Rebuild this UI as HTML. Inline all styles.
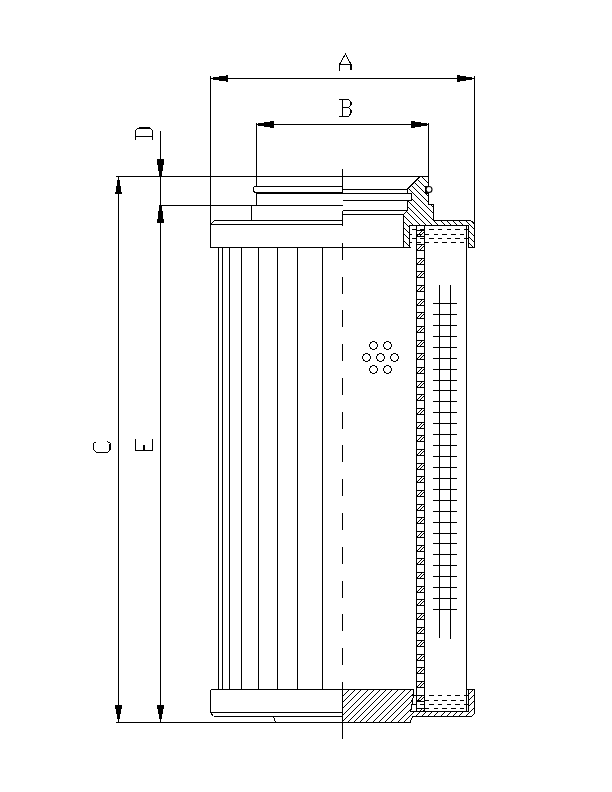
<!DOCTYPE html>
<html><head><meta charset="utf-8"><style>
html,body{margin:0;padding:0;background:#fff;}
body{width:612px;height:792px;overflow:hidden;font-family:"Liberation Sans",sans-serif;}
svg{display:block;}
</style></head><body>
<svg width="612" height="792" viewBox="0 0 612 792" stroke="#000" stroke-width="1" fill="none" shape-rendering="crispEdges">
<line x1="210.5" y1="76" x2="210.5" y2="248"/>
<line x1="474.5" y1="76" x2="474.5" y2="224"/>
<line x1="210.5" y1="78.5" x2="474.5" y2="78.5"/>
<polygon points="213.0,79.8 219.0,79.8 219.0,80.9 225.5,80.9 225.5,81.9 228.0,81.9 228.0,75.1 225.5,75.1 225.5,76.1 219.0,76.1 219.0,77.2 213.0,77.2" fill="#000" stroke="none"/>
<polygon points="472.0,77.2 466.0,77.2 466.0,76.1 459.5,76.1 459.5,75.1 457.0,75.1 457.0,81.9 459.5,81.9 459.5,80.9 466.0,80.9 466.0,79.8 472.0,79.8" fill="#000" stroke="none"/>
<path d="M339.5,70.5 V64.5 L345.5,54 L351,64.5 M339.5,64.5 H351.5" />
<line x1="351" y1="64" x2="351" y2="69.5" stroke-width="2"/>
<line x1="256.5" y1="123" x2="256.5" y2="187"/>
<line x1="428.5" y1="123" x2="428.5" y2="186.5"/>
<line x1="256.5" y1="124.5" x2="428.5" y2="124.5"/>
<polygon points="257.8,125.8 264.2,125.8 264.2,126.9 270.0,126.9 270.0,127.9 274.0,127.9 274.0,121.1 270.0,121.1 270.0,122.1 264.2,122.1 264.2,123.2 257.8,123.2" fill="#000" stroke="none"/>
<polygon points="427.0,123.2 420.6,123.2 420.6,122.1 414.8,122.1 414.8,121.1 411.1,121.1 411.1,127.9 414.8,127.9 414.8,126.9 420.6,126.9 420.6,125.8 427.0,125.8" fill="#000" stroke="none"/>
<path d="M339,99.5 H348.5 L351.5,102.5 V104.5 L348.5,107.5 H342.5 M348.5,107.5 L351.5,110.5 V112.5 L348.5,116.5 H339 M342.5,99.5 V116.5" />
<line x1="351" y1="102" x2="351" y2="105" stroke-width="2"/>
<line x1="351" y1="110" x2="351" y2="113" stroke-width="2"/>
<line x1="160.5" y1="131" x2="160.5" y2="722.5"/>
<polygon points="161.8,176.0 161.8,171.0 162.9,171.0 162.9,165.0 163.9,165.0 163.9,159.0 157.1,159.0 157.1,165.0 158.1,165.0 158.1,171.0 159.2,171.0 159.2,176.0" fill="#000" stroke="none"/>
<polygon points="159.2,206.0 159.2,211.0 158.1,211.0 158.1,218.7 157.1,218.7 157.1,222.5 163.9,222.5 163.9,218.7 162.9,218.7 162.9,211.0 161.8,211.0 161.8,206.0" fill="#000" stroke="none"/>
<polygon points="161.8,719.2 161.8,714.0 162.9,714.0 162.9,709.0 163.9,709.0 163.9,705.0 157.1,705.0 157.1,709.0 158.1,709.0 158.1,714.0 159.2,714.0 159.2,719.2" fill="#000" stroke="none"/>
<path d="M135.5,139.5 V130.5 L138.5,128 H149.5 L152.5,130.5 V139.5 M135.5,136.5 H152.5" />
<path d="M138.5,128 H149.5" stroke-width="2"/>
<path d="M135.5,439 V450.5 H152.5 V439" />
<path d="M144,445 V450.5" stroke-width="2"/>
<line x1="118.5" y1="176.5" x2="118.5" y2="722.5"/>
<polygon points="117.2,179.8 117.2,185.5 116.1,185.5 116.1,192.0 115.1,192.0 115.1,194.0 121.9,194.0 121.9,192.0 120.9,192.0 120.9,185.5 119.8,185.5 119.8,179.8" fill="#000" stroke="none"/>
<polygon points="119.8,719.2 119.8,714.0 120.9,714.0 120.9,709.0 121.9,709.0 121.9,705.0 115.1,705.0 115.1,709.0 116.1,709.0 116.1,714.0 117.2,714.0 117.2,719.2" fill="#000" stroke="none"/>
<path d="M96.5,441.5 L93.5,443.5 V449.5 L96.5,452.5 H107.5 L110.5,449.5 V443.5 L107.5,441.5" />
<line x1="110" y1="443.5" x2="110" y2="449.5" stroke-width="2"/>
<line x1="116" y1="176.5" x2="428.5" y2="176.5"/>
<line x1="159" y1="205.5" x2="342.5" y2="205.5"/>
<line x1="116" y1="722.5" x2="410" y2="722.5"/>
<line x1="210.5" y1="247.5" x2="411" y2="247.5"/>
<line x1="210.5" y1="224.5" x2="342.5" y2="224.5"/>
<line x1="214.5" y1="220.5" x2="342.5" y2="220.5"/>
<line x1="210.5" y1="224.5" x2="214.5" y2="220.5"/>
<line x1="251.5" y1="205.5" x2="251.5" y2="220.5"/>
<line x1="256.5" y1="193" x2="256.5" y2="205.5"/>
<path d="M256.5,186.5 H342.5" />
<path d="M256.5,186.5 Q252.5,186.5 253.5,189.5 Q253.5,192.5 256.5,192.5" />
<line x1="256.5" y1="193" x2="342.5" y2="193" stroke-width="2"/>
<line x1="342.5" y1="169" x2="342.5" y2="193.5"/>
<line x1="342.5" y1="210.5" x2="342.5" y2="226"/>
<line x1="342.5" y1="242.8" x2="342.5" y2="259.8"/>
<line x1="342.5" y1="276.58" x2="342.5" y2="293.58"/>
<line x1="342.5" y1="310.36" x2="342.5" y2="327.36"/>
<line x1="342.5" y1="344.14" x2="342.5" y2="361.14"/>
<line x1="342.5" y1="377.92" x2="342.5" y2="394.92"/>
<line x1="342.5" y1="411.7" x2="342.5" y2="428.7"/>
<line x1="342.5" y1="445.48" x2="342.5" y2="462.48"/>
<line x1="342.5" y1="479.26" x2="342.5" y2="496.26"/>
<line x1="342.5" y1="513.04" x2="342.5" y2="530.04"/>
<line x1="342.5" y1="546.82" x2="342.5" y2="563.82"/>
<line x1="342.5" y1="580.6" x2="342.5" y2="597.6"/>
<line x1="342.5" y1="614.38" x2="342.5" y2="631.38"/>
<line x1="342.5" y1="648.16" x2="342.5" y2="665.16"/>
<line x1="342.5" y1="681.94" x2="342.5" y2="698.5"/>
<line x1="342.5" y1="715.5" x2="342.5" y2="738.7"/>
<line x1="342.5" y1="189.5" x2="408" y2="189.5"/>
<line x1="342.5" y1="193.5" x2="411.5" y2="193.5"/>
<line x1="342.5" y1="200.5" x2="411.5" y2="200.5"/>
<line x1="342.5" y1="210.5" x2="408" y2="210.5"/>
<line x1="342.5" y1="214.5" x2="403.5" y2="214.5"/>
<clipPath id="ctop"><polygon points="420.2,176.5 428.5,176.5 428.5,204.5 433.5,204.5 433.5,220.5 470.7,220.5 474.5,224 474.5,247.5 468.5,247.5 468.5,225.5 409.8,225.5 409.8,247.5 403.5,247.5 403.5,214.5 407.8,210.5 407.8,200.5 411.5,200.5 411.5,193.5 407.8,193.5 407.8,188.8"/></clipPath>
<g clip-path="url(#ctop)"><line x1="602" y1="170" x2="687" y2="255"/><line x1="596" y1="170" x2="681" y2="255"/><line x1="590" y1="170" x2="675" y2="255"/><line x1="583" y1="170" x2="668" y2="255"/><line x1="577" y1="170" x2="662" y2="255"/><line x1="571" y1="170" x2="656" y2="255"/><line x1="565" y1="170" x2="650" y2="255"/><line x1="558" y1="170" x2="643" y2="255"/><line x1="552" y1="170" x2="637" y2="255"/><line x1="546" y1="170" x2="631" y2="255"/><line x1="540" y1="170" x2="625" y2="255"/><line x1="533" y1="170" x2="618" y2="255"/><line x1="527" y1="170" x2="612" y2="255"/><line x1="521" y1="170" x2="606" y2="255"/><line x1="515" y1="170" x2="600" y2="255"/><line x1="508" y1="170" x2="593" y2="255"/><line x1="502" y1="170" x2="587" y2="255"/><line x1="496" y1="170" x2="581" y2="255"/><line x1="490" y1="170" x2="575" y2="255"/><line x1="483" y1="170" x2="568" y2="255"/><line x1="477" y1="170" x2="562" y2="255"/><line x1="471" y1="170" x2="556" y2="255"/><line x1="465" y1="170" x2="550" y2="255"/><line x1="458" y1="170" x2="543" y2="255"/><line x1="452" y1="170" x2="537" y2="255"/><line x1="446" y1="170" x2="531" y2="255"/><line x1="440" y1="170" x2="525" y2="255"/><line x1="433" y1="170" x2="518" y2="255"/><line x1="427" y1="170" x2="512" y2="255"/><line x1="421" y1="170" x2="506" y2="255"/><line x1="415" y1="170" x2="500" y2="255"/><line x1="408" y1="170" x2="493" y2="255"/><line x1="402" y1="170" x2="487" y2="255"/><line x1="396" y1="170" x2="481" y2="255"/><line x1="390" y1="170" x2="475" y2="255"/><line x1="383" y1="170" x2="468" y2="255"/><line x1="377" y1="170" x2="462" y2="255"/><line x1="371" y1="170" x2="456" y2="255"/><line x1="365" y1="170" x2="450" y2="255"/><line x1="358" y1="170" x2="443" y2="255"/><line x1="352" y1="170" x2="437" y2="255"/><line x1="346" y1="170" x2="431" y2="255"/><line x1="340" y1="170" x2="425" y2="255"/><line x1="333" y1="170" x2="418" y2="255"/><line x1="327" y1="170" x2="412" y2="255"/><line x1="321" y1="170" x2="406" y2="255"/><line x1="315" y1="170" x2="400" y2="255"/><line x1="308" y1="170" x2="393" y2="255"/><line x1="302" y1="170" x2="387" y2="255"/><line x1="296" y1="170" x2="381" y2="255"/><line x1="290" y1="170" x2="375" y2="255"/><line x1="283" y1="170" x2="368" y2="255"/><line x1="277" y1="170" x2="362" y2="255"/><line x1="271" y1="170" x2="356" y2="255"/><line x1="265" y1="170" x2="350" y2="255"/><line x1="258" y1="170" x2="343" y2="255"/><line x1="252" y1="170" x2="337" y2="255"/><line x1="246" y1="170" x2="331" y2="255"/><line x1="239" y1="170" x2="324" y2="255"/><line x1="233" y1="170" x2="318" y2="255"/></g>
<polygon points="420.2,176.5 428.5,176.5 428.5,204.5 433.5,204.5 433.5,220.5 470.7,220.5 474.5,224 474.5,247.5 468.5,247.5 468.5,225.5 409.8,225.5 409.8,247.5 403.5,247.5 403.5,214.5 407.8,210.5 407.8,200.5 411.5,200.5 411.5,193.5 407.8,193.5 407.8,188.8" fill="none"/>
<path d="M428.5,186 H425 V194 H428.5 Z" fill="#000" stroke="none"/>
<circle cx="429" cy="189.5" r="3" fill="#fff" shape-rendering="auto" stroke-width="1.1"/>
<line x1="466.5" y1="225.5" x2="466.5" y2="711"/>
<clipPath id="cbot"><polygon points="342.5,689.5 413.5,689.5 413.5,695 410.7,711.5 468.5,711.5 468.5,689.5 474.5,689.5 474.5,713.7 471.1,716.5 412.6,716.5 410,722.5 342.5,722.5"/></clipPath>
<g clip-path="url(#cbot)"><line x1="111" y1="680" x2="61" y2="730"/><line x1="117" y1="680" x2="67" y2="730"/><line x1="123" y1="680" x2="73" y2="730"/><line x1="130" y1="680" x2="80" y2="730"/><line x1="136" y1="680" x2="86" y2="730"/><line x1="142" y1="680" x2="92" y2="730"/><line x1="148" y1="680" x2="98" y2="730"/><line x1="154" y1="680" x2="104" y2="730"/><line x1="161" y1="680" x2="111" y2="730"/><line x1="167" y1="680" x2="117" y2="730"/><line x1="173" y1="680" x2="123" y2="730"/><line x1="179" y1="680" x2="129" y2="730"/><line x1="185" y1="680" x2="135" y2="730"/><line x1="192" y1="680" x2="142" y2="730"/><line x1="198" y1="680" x2="148" y2="730"/><line x1="204" y1="680" x2="154" y2="730"/><line x1="210" y1="680" x2="160" y2="730"/><line x1="216" y1="680" x2="166" y2="730"/><line x1="223" y1="680" x2="173" y2="730"/><line x1="229" y1="680" x2="179" y2="730"/><line x1="235" y1="680" x2="185" y2="730"/><line x1="241" y1="680" x2="191" y2="730"/><line x1="247" y1="680" x2="197" y2="730"/><line x1="254" y1="680" x2="204" y2="730"/><line x1="260" y1="680" x2="210" y2="730"/><line x1="266" y1="680" x2="216" y2="730"/><line x1="272" y1="680" x2="222" y2="730"/><line x1="278" y1="680" x2="228" y2="730"/><line x1="285" y1="680" x2="235" y2="730"/><line x1="291" y1="680" x2="241" y2="730"/><line x1="297" y1="680" x2="247" y2="730"/><line x1="303" y1="680" x2="253" y2="730"/><line x1="309" y1="680" x2="259" y2="730"/><line x1="316" y1="680" x2="266" y2="730"/><line x1="322" y1="680" x2="272" y2="730"/><line x1="328" y1="680" x2="278" y2="730"/><line x1="334" y1="680" x2="284" y2="730"/><line x1="340" y1="680" x2="290" y2="730"/><line x1="346" y1="680" x2="296" y2="730"/><line x1="353" y1="680" x2="303" y2="730"/><line x1="359" y1="680" x2="309" y2="730"/><line x1="365" y1="680" x2="315" y2="730"/><line x1="371" y1="680" x2="321" y2="730"/><line x1="378" y1="680" x2="328" y2="730"/><line x1="384" y1="680" x2="334" y2="730"/><line x1="390" y1="680" x2="340" y2="730"/><line x1="396" y1="680" x2="346" y2="730"/><line x1="402" y1="680" x2="352" y2="730"/><line x1="408" y1="680" x2="358" y2="730"/><line x1="415" y1="680" x2="365" y2="730"/><line x1="421" y1="680" x2="371" y2="730"/><line x1="427" y1="680" x2="377" y2="730"/><line x1="433" y1="680" x2="383" y2="730"/><line x1="440" y1="680" x2="390" y2="730"/><line x1="446" y1="680" x2="396" y2="730"/><line x1="452" y1="680" x2="402" y2="730"/><line x1="458" y1="680" x2="408" y2="730"/><line x1="464" y1="680" x2="414" y2="730"/><line x1="470" y1="680" x2="420" y2="730"/><line x1="477" y1="680" x2="427" y2="730"/><line x1="483" y1="680" x2="433" y2="730"/><line x1="489" y1="680" x2="439" y2="730"/><line x1="495" y1="680" x2="445" y2="730"/><line x1="502" y1="680" x2="452" y2="730"/><line x1="508" y1="680" x2="458" y2="730"/><line x1="514" y1="680" x2="464" y2="730"/><line x1="520" y1="680" x2="470" y2="730"/><line x1="526" y1="680" x2="476" y2="730"/><line x1="532" y1="680" x2="482" y2="730"/><line x1="539" y1="680" x2="489" y2="730"/><line x1="545" y1="680" x2="495" y2="730"/><line x1="551" y1="680" x2="501" y2="730"/><line x1="557" y1="680" x2="507" y2="730"/><line x1="564" y1="680" x2="514" y2="730"/><line x1="570" y1="680" x2="520" y2="730"/><line x1="576" y1="680" x2="526" y2="730"/><line x1="582" y1="680" x2="532" y2="730"/><line x1="588" y1="680" x2="538" y2="730"/><line x1="594" y1="680" x2="544" y2="730"/><line x1="601" y1="680" x2="551" y2="730"/></g>
<polygon points="342.5,689.5 413.5,689.5 413.5,695 410.7,711.5 468.5,711.5 468.5,689.5 474.5,689.5 474.5,713.7 471.1,716.5 412.6,716.5 410,722.5 342.5,722.5" fill="none"/>
<line x1="466.5" y1="689.5" x2="468.5" y2="689.5"/>
<line x1="210.5" y1="689.5" x2="342.5" y2="689.5"/>
<line x1="210.5" y1="689.5" x2="210.5" y2="712.5"/>
<line x1="210.5" y1="712.5" x2="342.5" y2="712.5"/>
<line x1="210.5" y1="712.5" x2="213.5" y2="716.5"/>
<line x1="213.5" y1="716.5" x2="342.5" y2="716.5"/>
<path d="M273,716.5 Q274.5,718 274.5,720 L275.5,722.5" />
<line x1="218.5" y1="247.5" x2="218.5" y2="689.5"/>
<line x1="222.5" y1="247.5" x2="222.5" y2="689.5"/>
<line x1="229.5" y1="247.5" x2="229.5" y2="689.5"/>
<line x1="241.5" y1="247.5" x2="241.5" y2="689.5"/>
<line x1="258.5" y1="247.5" x2="258.5" y2="689.5"/>
<line x1="277.5" y1="247.5" x2="277.5" y2="689.5"/>
<line x1="297.5" y1="247.5" x2="297.5" y2="689.5"/>
<line x1="322.5" y1="247.5" x2="322.5" y2="689.5"/>
<line x1="416.5" y1="225.5" x2="416.5" y2="711"/>
<line x1="424.5" y1="225.5" x2="424.5" y2="711"/>
<line x1="416.5" y1="230.5" x2="424.5" y2="230.5"/>
<line x1="416.5" y1="236.5" x2="424.5" y2="236.5"/>
<rect x="417" y="235" width="1" height="1" fill="#000" stroke="none"/>
<rect x="418" y="234" width="1" height="1" fill="#000" stroke="none"/>
<rect x="419" y="233" width="1" height="1" fill="#000" stroke="none"/>
<rect x="420" y="232" width="1" height="1" fill="#000" stroke="none"/>
<rect x="421" y="231" width="1" height="1" fill="#000" stroke="none"/>
<rect x="420" y="235" width="1" height="1" fill="#000" stroke="none"/>
<rect x="421" y="234" width="1" height="1" fill="#000" stroke="none"/>
<rect x="422" y="233" width="1" height="1" fill="#000" stroke="none"/>
<rect x="423" y="232" width="1" height="1" fill="#000" stroke="none"/>
<line x1="416.5" y1="244.5" x2="424.5" y2="244.5"/>
<line x1="416.5" y1="250.5" x2="424.5" y2="250.5"/>
<rect x="417" y="249" width="1" height="1" fill="#000" stroke="none"/>
<rect x="418" y="248" width="1" height="1" fill="#000" stroke="none"/>
<rect x="419" y="247" width="1" height="1" fill="#000" stroke="none"/>
<rect x="420" y="246" width="1" height="1" fill="#000" stroke="none"/>
<rect x="421" y="245" width="1" height="1" fill="#000" stroke="none"/>
<rect x="420" y="249" width="1" height="1" fill="#000" stroke="none"/>
<rect x="421" y="248" width="1" height="1" fill="#000" stroke="none"/>
<rect x="422" y="247" width="1" height="1" fill="#000" stroke="none"/>
<rect x="423" y="246" width="1" height="1" fill="#000" stroke="none"/>
<line x1="416.5" y1="258.5" x2="424.5" y2="258.5"/>
<line x1="416.5" y1="264.5" x2="424.5" y2="264.5"/>
<rect x="417" y="263" width="1" height="1" fill="#000" stroke="none"/>
<rect x="418" y="262" width="1" height="1" fill="#000" stroke="none"/>
<rect x="419" y="261" width="1" height="1" fill="#000" stroke="none"/>
<rect x="420" y="260" width="1" height="1" fill="#000" stroke="none"/>
<rect x="421" y="259" width="1" height="1" fill="#000" stroke="none"/>
<rect x="420" y="263" width="1" height="1" fill="#000" stroke="none"/>
<rect x="421" y="262" width="1" height="1" fill="#000" stroke="none"/>
<rect x="422" y="261" width="1" height="1" fill="#000" stroke="none"/>
<rect x="423" y="260" width="1" height="1" fill="#000" stroke="none"/>
<line x1="416.5" y1="271.5" x2="424.5" y2="271.5"/>
<line x1="416.5" y1="277.5" x2="424.5" y2="277.5"/>
<rect x="417" y="276" width="1" height="1" fill="#000" stroke="none"/>
<rect x="418" y="275" width="1" height="1" fill="#000" stroke="none"/>
<rect x="419" y="274" width="1" height="1" fill="#000" stroke="none"/>
<rect x="420" y="273" width="1" height="1" fill="#000" stroke="none"/>
<rect x="421" y="272" width="1" height="1" fill="#000" stroke="none"/>
<rect x="420" y="276" width="1" height="1" fill="#000" stroke="none"/>
<rect x="421" y="275" width="1" height="1" fill="#000" stroke="none"/>
<rect x="422" y="274" width="1" height="1" fill="#000" stroke="none"/>
<rect x="423" y="273" width="1" height="1" fill="#000" stroke="none"/>
<line x1="416.5" y1="285.5" x2="424.5" y2="285.5"/>
<line x1="416.5" y1="291.5" x2="424.5" y2="291.5"/>
<rect x="417" y="290" width="1" height="1" fill="#000" stroke="none"/>
<rect x="418" y="289" width="1" height="1" fill="#000" stroke="none"/>
<rect x="419" y="288" width="1" height="1" fill="#000" stroke="none"/>
<rect x="420" y="287" width="1" height="1" fill="#000" stroke="none"/>
<rect x="421" y="286" width="1" height="1" fill="#000" stroke="none"/>
<rect x="420" y="290" width="1" height="1" fill="#000" stroke="none"/>
<rect x="421" y="289" width="1" height="1" fill="#000" stroke="none"/>
<rect x="422" y="288" width="1" height="1" fill="#000" stroke="none"/>
<rect x="423" y="287" width="1" height="1" fill="#000" stroke="none"/>
<line x1="416.5" y1="299.5" x2="424.5" y2="299.5"/>
<line x1="416.5" y1="305.5" x2="424.5" y2="305.5"/>
<rect x="417" y="304" width="1" height="1" fill="#000" stroke="none"/>
<rect x="418" y="303" width="1" height="1" fill="#000" stroke="none"/>
<rect x="419" y="302" width="1" height="1" fill="#000" stroke="none"/>
<rect x="420" y="301" width="1" height="1" fill="#000" stroke="none"/>
<rect x="421" y="300" width="1" height="1" fill="#000" stroke="none"/>
<rect x="420" y="304" width="1" height="1" fill="#000" stroke="none"/>
<rect x="421" y="303" width="1" height="1" fill="#000" stroke="none"/>
<rect x="422" y="302" width="1" height="1" fill="#000" stroke="none"/>
<rect x="423" y="301" width="1" height="1" fill="#000" stroke="none"/>
<line x1="416.5" y1="312.5" x2="424.5" y2="312.5"/>
<line x1="416.5" y1="318.5" x2="424.5" y2="318.5"/>
<rect x="417" y="317" width="1" height="1" fill="#000" stroke="none"/>
<rect x="418" y="316" width="1" height="1" fill="#000" stroke="none"/>
<rect x="419" y="315" width="1" height="1" fill="#000" stroke="none"/>
<rect x="420" y="314" width="1" height="1" fill="#000" stroke="none"/>
<rect x="421" y="313" width="1" height="1" fill="#000" stroke="none"/>
<rect x="420" y="317" width="1" height="1" fill="#000" stroke="none"/>
<rect x="421" y="316" width="1" height="1" fill="#000" stroke="none"/>
<rect x="422" y="315" width="1" height="1" fill="#000" stroke="none"/>
<rect x="423" y="314" width="1" height="1" fill="#000" stroke="none"/>
<line x1="416.5" y1="326.5" x2="424.5" y2="326.5"/>
<line x1="416.5" y1="332.5" x2="424.5" y2="332.5"/>
<rect x="417" y="331" width="1" height="1" fill="#000" stroke="none"/>
<rect x="418" y="330" width="1" height="1" fill="#000" stroke="none"/>
<rect x="419" y="329" width="1" height="1" fill="#000" stroke="none"/>
<rect x="420" y="328" width="1" height="1" fill="#000" stroke="none"/>
<rect x="421" y="327" width="1" height="1" fill="#000" stroke="none"/>
<rect x="420" y="331" width="1" height="1" fill="#000" stroke="none"/>
<rect x="421" y="330" width="1" height="1" fill="#000" stroke="none"/>
<rect x="422" y="329" width="1" height="1" fill="#000" stroke="none"/>
<rect x="423" y="328" width="1" height="1" fill="#000" stroke="none"/>
<line x1="416.5" y1="340.5" x2="424.5" y2="340.5"/>
<line x1="416.5" y1="346.5" x2="424.5" y2="346.5"/>
<rect x="417" y="345" width="1" height="1" fill="#000" stroke="none"/>
<rect x="418" y="344" width="1" height="1" fill="#000" stroke="none"/>
<rect x="419" y="343" width="1" height="1" fill="#000" stroke="none"/>
<rect x="420" y="342" width="1" height="1" fill="#000" stroke="none"/>
<rect x="421" y="341" width="1" height="1" fill="#000" stroke="none"/>
<rect x="420" y="345" width="1" height="1" fill="#000" stroke="none"/>
<rect x="421" y="344" width="1" height="1" fill="#000" stroke="none"/>
<rect x="422" y="343" width="1" height="1" fill="#000" stroke="none"/>
<rect x="423" y="342" width="1" height="1" fill="#000" stroke="none"/>
<line x1="416.5" y1="353.5" x2="424.5" y2="353.5"/>
<line x1="416.5" y1="359.5" x2="424.5" y2="359.5"/>
<rect x="417" y="358" width="1" height="1" fill="#000" stroke="none"/>
<rect x="418" y="357" width="1" height="1" fill="#000" stroke="none"/>
<rect x="419" y="356" width="1" height="1" fill="#000" stroke="none"/>
<rect x="420" y="355" width="1" height="1" fill="#000" stroke="none"/>
<rect x="421" y="354" width="1" height="1" fill="#000" stroke="none"/>
<rect x="420" y="358" width="1" height="1" fill="#000" stroke="none"/>
<rect x="421" y="357" width="1" height="1" fill="#000" stroke="none"/>
<rect x="422" y="356" width="1" height="1" fill="#000" stroke="none"/>
<rect x="423" y="355" width="1" height="1" fill="#000" stroke="none"/>
<line x1="416.5" y1="367.5" x2="424.5" y2="367.5"/>
<line x1="416.5" y1="373.5" x2="424.5" y2="373.5"/>
<rect x="417" y="372" width="1" height="1" fill="#000" stroke="none"/>
<rect x="418" y="371" width="1" height="1" fill="#000" stroke="none"/>
<rect x="419" y="370" width="1" height="1" fill="#000" stroke="none"/>
<rect x="420" y="369" width="1" height="1" fill="#000" stroke="none"/>
<rect x="421" y="368" width="1" height="1" fill="#000" stroke="none"/>
<rect x="420" y="372" width="1" height="1" fill="#000" stroke="none"/>
<rect x="421" y="371" width="1" height="1" fill="#000" stroke="none"/>
<rect x="422" y="370" width="1" height="1" fill="#000" stroke="none"/>
<rect x="423" y="369" width="1" height="1" fill="#000" stroke="none"/>
<line x1="416.5" y1="381.5" x2="424.5" y2="381.5"/>
<line x1="416.5" y1="387.5" x2="424.5" y2="387.5"/>
<rect x="417" y="386" width="1" height="1" fill="#000" stroke="none"/>
<rect x="418" y="385" width="1" height="1" fill="#000" stroke="none"/>
<rect x="419" y="384" width="1" height="1" fill="#000" stroke="none"/>
<rect x="420" y="383" width="1" height="1" fill="#000" stroke="none"/>
<rect x="421" y="382" width="1" height="1" fill="#000" stroke="none"/>
<rect x="420" y="386" width="1" height="1" fill="#000" stroke="none"/>
<rect x="421" y="385" width="1" height="1" fill="#000" stroke="none"/>
<rect x="422" y="384" width="1" height="1" fill="#000" stroke="none"/>
<rect x="423" y="383" width="1" height="1" fill="#000" stroke="none"/>
<line x1="416.5" y1="394.5" x2="424.5" y2="394.5"/>
<line x1="416.5" y1="400.5" x2="424.5" y2="400.5"/>
<rect x="417" y="399" width="1" height="1" fill="#000" stroke="none"/>
<rect x="418" y="398" width="1" height="1" fill="#000" stroke="none"/>
<rect x="419" y="397" width="1" height="1" fill="#000" stroke="none"/>
<rect x="420" y="396" width="1" height="1" fill="#000" stroke="none"/>
<rect x="421" y="395" width="1" height="1" fill="#000" stroke="none"/>
<rect x="420" y="399" width="1" height="1" fill="#000" stroke="none"/>
<rect x="421" y="398" width="1" height="1" fill="#000" stroke="none"/>
<rect x="422" y="397" width="1" height="1" fill="#000" stroke="none"/>
<rect x="423" y="396" width="1" height="1" fill="#000" stroke="none"/>
<line x1="416.5" y1="408.5" x2="424.5" y2="408.5"/>
<line x1="416.5" y1="414.5" x2="424.5" y2="414.5"/>
<rect x="417" y="413" width="1" height="1" fill="#000" stroke="none"/>
<rect x="418" y="412" width="1" height="1" fill="#000" stroke="none"/>
<rect x="419" y="411" width="1" height="1" fill="#000" stroke="none"/>
<rect x="420" y="410" width="1" height="1" fill="#000" stroke="none"/>
<rect x="421" y="409" width="1" height="1" fill="#000" stroke="none"/>
<rect x="420" y="413" width="1" height="1" fill="#000" stroke="none"/>
<rect x="421" y="412" width="1" height="1" fill="#000" stroke="none"/>
<rect x="422" y="411" width="1" height="1" fill="#000" stroke="none"/>
<rect x="423" y="410" width="1" height="1" fill="#000" stroke="none"/>
<line x1="416.5" y1="422.5" x2="424.5" y2="422.5"/>
<line x1="416.5" y1="428.5" x2="424.5" y2="428.5"/>
<rect x="417" y="427" width="1" height="1" fill="#000" stroke="none"/>
<rect x="418" y="426" width="1" height="1" fill="#000" stroke="none"/>
<rect x="419" y="425" width="1" height="1" fill="#000" stroke="none"/>
<rect x="420" y="424" width="1" height="1" fill="#000" stroke="none"/>
<rect x="421" y="423" width="1" height="1" fill="#000" stroke="none"/>
<rect x="420" y="427" width="1" height="1" fill="#000" stroke="none"/>
<rect x="421" y="426" width="1" height="1" fill="#000" stroke="none"/>
<rect x="422" y="425" width="1" height="1" fill="#000" stroke="none"/>
<rect x="423" y="424" width="1" height="1" fill="#000" stroke="none"/>
<line x1="416.5" y1="435.5" x2="424.5" y2="435.5"/>
<line x1="416.5" y1="441.5" x2="424.5" y2="441.5"/>
<rect x="417" y="440" width="1" height="1" fill="#000" stroke="none"/>
<rect x="418" y="439" width="1" height="1" fill="#000" stroke="none"/>
<rect x="419" y="438" width="1" height="1" fill="#000" stroke="none"/>
<rect x="420" y="437" width="1" height="1" fill="#000" stroke="none"/>
<rect x="421" y="436" width="1" height="1" fill="#000" stroke="none"/>
<rect x="420" y="440" width="1" height="1" fill="#000" stroke="none"/>
<rect x="421" y="439" width="1" height="1" fill="#000" stroke="none"/>
<rect x="422" y="438" width="1" height="1" fill="#000" stroke="none"/>
<rect x="423" y="437" width="1" height="1" fill="#000" stroke="none"/>
<line x1="416.5" y1="449.5" x2="424.5" y2="449.5"/>
<line x1="416.5" y1="455.5" x2="424.5" y2="455.5"/>
<rect x="417" y="454" width="1" height="1" fill="#000" stroke="none"/>
<rect x="418" y="453" width="1" height="1" fill="#000" stroke="none"/>
<rect x="419" y="452" width="1" height="1" fill="#000" stroke="none"/>
<rect x="420" y="451" width="1" height="1" fill="#000" stroke="none"/>
<rect x="421" y="450" width="1" height="1" fill="#000" stroke="none"/>
<rect x="420" y="454" width="1" height="1" fill="#000" stroke="none"/>
<rect x="421" y="453" width="1" height="1" fill="#000" stroke="none"/>
<rect x="422" y="452" width="1" height="1" fill="#000" stroke="none"/>
<rect x="423" y="451" width="1" height="1" fill="#000" stroke="none"/>
<line x1="416.5" y1="463.5" x2="424.5" y2="463.5"/>
<line x1="416.5" y1="469.5" x2="424.5" y2="469.5"/>
<rect x="417" y="468" width="1" height="1" fill="#000" stroke="none"/>
<rect x="418" y="467" width="1" height="1" fill="#000" stroke="none"/>
<rect x="419" y="466" width="1" height="1" fill="#000" stroke="none"/>
<rect x="420" y="465" width="1" height="1" fill="#000" stroke="none"/>
<rect x="421" y="464" width="1" height="1" fill="#000" stroke="none"/>
<rect x="420" y="468" width="1" height="1" fill="#000" stroke="none"/>
<rect x="421" y="467" width="1" height="1" fill="#000" stroke="none"/>
<rect x="422" y="466" width="1" height="1" fill="#000" stroke="none"/>
<rect x="423" y="465" width="1" height="1" fill="#000" stroke="none"/>
<line x1="416.5" y1="476.5" x2="424.5" y2="476.5"/>
<line x1="416.5" y1="482.5" x2="424.5" y2="482.5"/>
<rect x="417" y="481" width="1" height="1" fill="#000" stroke="none"/>
<rect x="418" y="480" width="1" height="1" fill="#000" stroke="none"/>
<rect x="419" y="479" width="1" height="1" fill="#000" stroke="none"/>
<rect x="420" y="478" width="1" height="1" fill="#000" stroke="none"/>
<rect x="421" y="477" width="1" height="1" fill="#000" stroke="none"/>
<rect x="420" y="481" width="1" height="1" fill="#000" stroke="none"/>
<rect x="421" y="480" width="1" height="1" fill="#000" stroke="none"/>
<rect x="422" y="479" width="1" height="1" fill="#000" stroke="none"/>
<rect x="423" y="478" width="1" height="1" fill="#000" stroke="none"/>
<line x1="416.5" y1="490.5" x2="424.5" y2="490.5"/>
<line x1="416.5" y1="496.5" x2="424.5" y2="496.5"/>
<rect x="417" y="495" width="1" height="1" fill="#000" stroke="none"/>
<rect x="418" y="494" width="1" height="1" fill="#000" stroke="none"/>
<rect x="419" y="493" width="1" height="1" fill="#000" stroke="none"/>
<rect x="420" y="492" width="1" height="1" fill="#000" stroke="none"/>
<rect x="421" y="491" width="1" height="1" fill="#000" stroke="none"/>
<rect x="420" y="495" width="1" height="1" fill="#000" stroke="none"/>
<rect x="421" y="494" width="1" height="1" fill="#000" stroke="none"/>
<rect x="422" y="493" width="1" height="1" fill="#000" stroke="none"/>
<rect x="423" y="492" width="1" height="1" fill="#000" stroke="none"/>
<line x1="416.5" y1="504.5" x2="424.5" y2="504.5"/>
<line x1="416.5" y1="510.5" x2="424.5" y2="510.5"/>
<rect x="417" y="509" width="1" height="1" fill="#000" stroke="none"/>
<rect x="418" y="508" width="1" height="1" fill="#000" stroke="none"/>
<rect x="419" y="507" width="1" height="1" fill="#000" stroke="none"/>
<rect x="420" y="506" width="1" height="1" fill="#000" stroke="none"/>
<rect x="421" y="505" width="1" height="1" fill="#000" stroke="none"/>
<rect x="420" y="509" width="1" height="1" fill="#000" stroke="none"/>
<rect x="421" y="508" width="1" height="1" fill="#000" stroke="none"/>
<rect x="422" y="507" width="1" height="1" fill="#000" stroke="none"/>
<rect x="423" y="506" width="1" height="1" fill="#000" stroke="none"/>
<line x1="416.5" y1="517.5" x2="424.5" y2="517.5"/>
<line x1="416.5" y1="523.5" x2="424.5" y2="523.5"/>
<rect x="417" y="522" width="1" height="1" fill="#000" stroke="none"/>
<rect x="418" y="521" width="1" height="1" fill="#000" stroke="none"/>
<rect x="419" y="520" width="1" height="1" fill="#000" stroke="none"/>
<rect x="420" y="519" width="1" height="1" fill="#000" stroke="none"/>
<rect x="421" y="518" width="1" height="1" fill="#000" stroke="none"/>
<rect x="420" y="522" width="1" height="1" fill="#000" stroke="none"/>
<rect x="421" y="521" width="1" height="1" fill="#000" stroke="none"/>
<rect x="422" y="520" width="1" height="1" fill="#000" stroke="none"/>
<rect x="423" y="519" width="1" height="1" fill="#000" stroke="none"/>
<line x1="416.5" y1="531.5" x2="424.5" y2="531.5"/>
<line x1="416.5" y1="537.5" x2="424.5" y2="537.5"/>
<rect x="417" y="536" width="1" height="1" fill="#000" stroke="none"/>
<rect x="418" y="535" width="1" height="1" fill="#000" stroke="none"/>
<rect x="419" y="534" width="1" height="1" fill="#000" stroke="none"/>
<rect x="420" y="533" width="1" height="1" fill="#000" stroke="none"/>
<rect x="421" y="532" width="1" height="1" fill="#000" stroke="none"/>
<rect x="420" y="536" width="1" height="1" fill="#000" stroke="none"/>
<rect x="421" y="535" width="1" height="1" fill="#000" stroke="none"/>
<rect x="422" y="534" width="1" height="1" fill="#000" stroke="none"/>
<rect x="423" y="533" width="1" height="1" fill="#000" stroke="none"/>
<line x1="416.5" y1="545.5" x2="424.5" y2="545.5"/>
<line x1="416.5" y1="551.5" x2="424.5" y2="551.5"/>
<rect x="417" y="550" width="1" height="1" fill="#000" stroke="none"/>
<rect x="418" y="549" width="1" height="1" fill="#000" stroke="none"/>
<rect x="419" y="548" width="1" height="1" fill="#000" stroke="none"/>
<rect x="420" y="547" width="1" height="1" fill="#000" stroke="none"/>
<rect x="421" y="546" width="1" height="1" fill="#000" stroke="none"/>
<rect x="420" y="550" width="1" height="1" fill="#000" stroke="none"/>
<rect x="421" y="549" width="1" height="1" fill="#000" stroke="none"/>
<rect x="422" y="548" width="1" height="1" fill="#000" stroke="none"/>
<rect x="423" y="547" width="1" height="1" fill="#000" stroke="none"/>
<line x1="416.5" y1="558.5" x2="424.5" y2="558.5"/>
<line x1="416.5" y1="564.5" x2="424.5" y2="564.5"/>
<rect x="417" y="563" width="1" height="1" fill="#000" stroke="none"/>
<rect x="418" y="562" width="1" height="1" fill="#000" stroke="none"/>
<rect x="419" y="561" width="1" height="1" fill="#000" stroke="none"/>
<rect x="420" y="560" width="1" height="1" fill="#000" stroke="none"/>
<rect x="421" y="559" width="1" height="1" fill="#000" stroke="none"/>
<rect x="420" y="563" width="1" height="1" fill="#000" stroke="none"/>
<rect x="421" y="562" width="1" height="1" fill="#000" stroke="none"/>
<rect x="422" y="561" width="1" height="1" fill="#000" stroke="none"/>
<rect x="423" y="560" width="1" height="1" fill="#000" stroke="none"/>
<line x1="416.5" y1="572.5" x2="424.5" y2="572.5"/>
<line x1="416.5" y1="578.5" x2="424.5" y2="578.5"/>
<rect x="417" y="577" width="1" height="1" fill="#000" stroke="none"/>
<rect x="418" y="576" width="1" height="1" fill="#000" stroke="none"/>
<rect x="419" y="575" width="1" height="1" fill="#000" stroke="none"/>
<rect x="420" y="574" width="1" height="1" fill="#000" stroke="none"/>
<rect x="421" y="573" width="1" height="1" fill="#000" stroke="none"/>
<rect x="420" y="577" width="1" height="1" fill="#000" stroke="none"/>
<rect x="421" y="576" width="1" height="1" fill="#000" stroke="none"/>
<rect x="422" y="575" width="1" height="1" fill="#000" stroke="none"/>
<rect x="423" y="574" width="1" height="1" fill="#000" stroke="none"/>
<line x1="416.5" y1="586.5" x2="424.5" y2="586.5"/>
<line x1="416.5" y1="592.5" x2="424.5" y2="592.5"/>
<rect x="417" y="591" width="1" height="1" fill="#000" stroke="none"/>
<rect x="418" y="590" width="1" height="1" fill="#000" stroke="none"/>
<rect x="419" y="589" width="1" height="1" fill="#000" stroke="none"/>
<rect x="420" y="588" width="1" height="1" fill="#000" stroke="none"/>
<rect x="421" y="587" width="1" height="1" fill="#000" stroke="none"/>
<rect x="420" y="591" width="1" height="1" fill="#000" stroke="none"/>
<rect x="421" y="590" width="1" height="1" fill="#000" stroke="none"/>
<rect x="422" y="589" width="1" height="1" fill="#000" stroke="none"/>
<rect x="423" y="588" width="1" height="1" fill="#000" stroke="none"/>
<line x1="416.5" y1="599.5" x2="424.5" y2="599.5"/>
<line x1="416.5" y1="605.5" x2="424.5" y2="605.5"/>
<rect x="417" y="604" width="1" height="1" fill="#000" stroke="none"/>
<rect x="418" y="603" width="1" height="1" fill="#000" stroke="none"/>
<rect x="419" y="602" width="1" height="1" fill="#000" stroke="none"/>
<rect x="420" y="601" width="1" height="1" fill="#000" stroke="none"/>
<rect x="421" y="600" width="1" height="1" fill="#000" stroke="none"/>
<rect x="420" y="604" width="1" height="1" fill="#000" stroke="none"/>
<rect x="421" y="603" width="1" height="1" fill="#000" stroke="none"/>
<rect x="422" y="602" width="1" height="1" fill="#000" stroke="none"/>
<rect x="423" y="601" width="1" height="1" fill="#000" stroke="none"/>
<line x1="416.5" y1="613.5" x2="424.5" y2="613.5"/>
<line x1="416.5" y1="619.5" x2="424.5" y2="619.5"/>
<rect x="417" y="618" width="1" height="1" fill="#000" stroke="none"/>
<rect x="418" y="617" width="1" height="1" fill="#000" stroke="none"/>
<rect x="419" y="616" width="1" height="1" fill="#000" stroke="none"/>
<rect x="420" y="615" width="1" height="1" fill="#000" stroke="none"/>
<rect x="421" y="614" width="1" height="1" fill="#000" stroke="none"/>
<rect x="420" y="618" width="1" height="1" fill="#000" stroke="none"/>
<rect x="421" y="617" width="1" height="1" fill="#000" stroke="none"/>
<rect x="422" y="616" width="1" height="1" fill="#000" stroke="none"/>
<rect x="423" y="615" width="1" height="1" fill="#000" stroke="none"/>
<line x1="416.5" y1="627.5" x2="424.5" y2="627.5"/>
<line x1="416.5" y1="633.5" x2="424.5" y2="633.5"/>
<rect x="417" y="632" width="1" height="1" fill="#000" stroke="none"/>
<rect x="418" y="631" width="1" height="1" fill="#000" stroke="none"/>
<rect x="419" y="630" width="1" height="1" fill="#000" stroke="none"/>
<rect x="420" y="629" width="1" height="1" fill="#000" stroke="none"/>
<rect x="421" y="628" width="1" height="1" fill="#000" stroke="none"/>
<rect x="420" y="632" width="1" height="1" fill="#000" stroke="none"/>
<rect x="421" y="631" width="1" height="1" fill="#000" stroke="none"/>
<rect x="422" y="630" width="1" height="1" fill="#000" stroke="none"/>
<rect x="423" y="629" width="1" height="1" fill="#000" stroke="none"/>
<line x1="416.5" y1="640.5" x2="424.5" y2="640.5"/>
<line x1="416.5" y1="646.5" x2="424.5" y2="646.5"/>
<rect x="417" y="645" width="1" height="1" fill="#000" stroke="none"/>
<rect x="418" y="644" width="1" height="1" fill="#000" stroke="none"/>
<rect x="419" y="643" width="1" height="1" fill="#000" stroke="none"/>
<rect x="420" y="642" width="1" height="1" fill="#000" stroke="none"/>
<rect x="421" y="641" width="1" height="1" fill="#000" stroke="none"/>
<rect x="420" y="645" width="1" height="1" fill="#000" stroke="none"/>
<rect x="421" y="644" width="1" height="1" fill="#000" stroke="none"/>
<rect x="422" y="643" width="1" height="1" fill="#000" stroke="none"/>
<rect x="423" y="642" width="1" height="1" fill="#000" stroke="none"/>
<line x1="416.5" y1="654.5" x2="424.5" y2="654.5"/>
<line x1="416.5" y1="660.5" x2="424.5" y2="660.5"/>
<rect x="417" y="659" width="1" height="1" fill="#000" stroke="none"/>
<rect x="418" y="658" width="1" height="1" fill="#000" stroke="none"/>
<rect x="419" y="657" width="1" height="1" fill="#000" stroke="none"/>
<rect x="420" y="656" width="1" height="1" fill="#000" stroke="none"/>
<rect x="421" y="655" width="1" height="1" fill="#000" stroke="none"/>
<rect x="420" y="659" width="1" height="1" fill="#000" stroke="none"/>
<rect x="421" y="658" width="1" height="1" fill="#000" stroke="none"/>
<rect x="422" y="657" width="1" height="1" fill="#000" stroke="none"/>
<rect x="423" y="656" width="1" height="1" fill="#000" stroke="none"/>
<line x1="416.5" y1="667.5" x2="424.5" y2="667.5"/>
<line x1="416.5" y1="673.5" x2="424.5" y2="673.5"/>
<rect x="417" y="672" width="1" height="1" fill="#000" stroke="none"/>
<rect x="418" y="671" width="1" height="1" fill="#000" stroke="none"/>
<rect x="419" y="670" width="1" height="1" fill="#000" stroke="none"/>
<rect x="420" y="669" width="1" height="1" fill="#000" stroke="none"/>
<rect x="421" y="668" width="1" height="1" fill="#000" stroke="none"/>
<rect x="420" y="672" width="1" height="1" fill="#000" stroke="none"/>
<rect x="421" y="671" width="1" height="1" fill="#000" stroke="none"/>
<rect x="422" y="670" width="1" height="1" fill="#000" stroke="none"/>
<rect x="423" y="669" width="1" height="1" fill="#000" stroke="none"/>
<line x1="416.5" y1="681.5" x2="424.5" y2="681.5"/>
<line x1="416.5" y1="687.5" x2="424.5" y2="687.5"/>
<rect x="417" y="686" width="1" height="1" fill="#000" stroke="none"/>
<rect x="418" y="685" width="1" height="1" fill="#000" stroke="none"/>
<rect x="419" y="684" width="1" height="1" fill="#000" stroke="none"/>
<rect x="420" y="683" width="1" height="1" fill="#000" stroke="none"/>
<rect x="421" y="682" width="1" height="1" fill="#000" stroke="none"/>
<rect x="420" y="686" width="1" height="1" fill="#000" stroke="none"/>
<rect x="421" y="685" width="1" height="1" fill="#000" stroke="none"/>
<rect x="422" y="684" width="1" height="1" fill="#000" stroke="none"/>
<rect x="423" y="683" width="1" height="1" fill="#000" stroke="none"/>
<line x1="416.5" y1="695.5" x2="424.5" y2="695.5"/>
<line x1="416.5" y1="701.5" x2="424.5" y2="701.5"/>
<rect x="417" y="700" width="1" height="1" fill="#000" stroke="none"/>
<rect x="418" y="699" width="1" height="1" fill="#000" stroke="none"/>
<rect x="419" y="698" width="1" height="1" fill="#000" stroke="none"/>
<rect x="420" y="697" width="1" height="1" fill="#000" stroke="none"/>
<rect x="421" y="696" width="1" height="1" fill="#000" stroke="none"/>
<rect x="420" y="700" width="1" height="1" fill="#000" stroke="none"/>
<rect x="421" y="699" width="1" height="1" fill="#000" stroke="none"/>
<rect x="422" y="698" width="1" height="1" fill="#000" stroke="none"/>
<rect x="423" y="697" width="1" height="1" fill="#000" stroke="none"/>
<line x1="416.5" y1="708.5" x2="424.5" y2="708.5"/>
<rect x="420" y="710" width="1" height="1" fill="#000" stroke="none"/>
<rect x="421" y="709" width="1" height="1" fill="#000" stroke="none"/>
<rect x="423" y="710" width="1" height="1" fill="#000" stroke="none"/>
<line x1="411.5" y1="229.5" x2="416.1" y2="229.5"/>
<line x1="420.25" y1="229.5" x2="424.85" y2="229.5"/>
<line x1="429.0" y1="229.5" x2="433.6" y2="229.5"/>
<line x1="437.75" y1="229.5" x2="442.35" y2="229.5"/>
<line x1="446.5" y1="229.5" x2="451.1" y2="229.5"/>
<line x1="455.25" y1="229.5" x2="459.85" y2="229.5"/>
<line x1="464.0" y1="229.5" x2="468.5" y2="229.5"/>
<line x1="410" y1="234.5" x2="411.95" y2="234.5"/>
<line x1="416.1" y1="234.5" x2="420.7" y2="234.5"/>
<line x1="424.85" y1="234.5" x2="429.45" y2="234.5"/>
<line x1="433.6" y1="234.5" x2="438.2" y2="234.5"/>
<line x1="442.35" y1="234.5" x2="446.95" y2="234.5"/>
<line x1="451.1" y1="234.5" x2="455.7" y2="234.5"/>
<line x1="459.85" y1="234.5" x2="464.45" y2="234.5"/>
<line x1="411.5" y1="238.5" x2="416.1" y2="238.5"/>
<line x1="420.25" y1="238.5" x2="424.85" y2="238.5"/>
<line x1="429.0" y1="238.5" x2="433.6" y2="238.5"/>
<line x1="437.75" y1="238.5" x2="442.35" y2="238.5"/>
<line x1="446.5" y1="238.5" x2="451.1" y2="238.5"/>
<line x1="455.25" y1="238.5" x2="459.85" y2="238.5"/>
<line x1="464.0" y1="238.5" x2="468.5" y2="238.5"/>
<line x1="410" y1="242.5" x2="411.95" y2="242.5"/>
<line x1="416.1" y1="242.5" x2="420.7" y2="242.5"/>
<line x1="424.85" y1="242.5" x2="429.45" y2="242.5"/>
<line x1="433.6" y1="242.5" x2="438.2" y2="242.5"/>
<line x1="442.35" y1="242.5" x2="446.95" y2="242.5"/>
<line x1="451.1" y1="242.5" x2="455.7" y2="242.5"/>
<line x1="459.85" y1="242.5" x2="464.45" y2="242.5"/>
<line x1="411.5" y1="695.5" x2="416.1" y2="695.5"/>
<line x1="420.25" y1="695.5" x2="424.85" y2="695.5"/>
<line x1="429.0" y1="695.5" x2="433.6" y2="695.5"/>
<line x1="437.75" y1="695.5" x2="442.35" y2="695.5"/>
<line x1="446.5" y1="695.5" x2="451.1" y2="695.5"/>
<line x1="455.25" y1="695.5" x2="459.85" y2="695.5"/>
<line x1="464.0" y1="695.5" x2="468.5" y2="695.5"/>
<line x1="411" y1="700.5" x2="411.95" y2="700.5"/>
<line x1="416.1" y1="700.5" x2="420.7" y2="700.5"/>
<line x1="424.85" y1="700.5" x2="429.45" y2="700.5"/>
<line x1="433.6" y1="700.5" x2="438.2" y2="700.5"/>
<line x1="442.35" y1="700.5" x2="446.95" y2="700.5"/>
<line x1="451.1" y1="700.5" x2="455.7" y2="700.5"/>
<line x1="459.85" y1="700.5" x2="464.45" y2="700.5"/>
<line x1="411.5" y1="704.5" x2="416.1" y2="704.5"/>
<line x1="420.25" y1="704.5" x2="424.85" y2="704.5"/>
<line x1="429.0" y1="704.5" x2="433.6" y2="704.5"/>
<line x1="437.75" y1="704.5" x2="442.35" y2="704.5"/>
<line x1="446.5" y1="704.5" x2="451.1" y2="704.5"/>
<line x1="455.25" y1="704.5" x2="459.85" y2="704.5"/>
<line x1="464.0" y1="704.5" x2="468.5" y2="704.5"/>
<line x1="411" y1="708.5" x2="411.95" y2="708.5"/>
<line x1="416.1" y1="708.5" x2="420.7" y2="708.5"/>
<line x1="424.85" y1="708.5" x2="429.45" y2="708.5"/>
<line x1="433.6" y1="708.5" x2="438.2" y2="708.5"/>
<line x1="442.35" y1="708.5" x2="446.95" y2="708.5"/>
<line x1="451.1" y1="708.5" x2="455.7" y2="708.5"/>
<line x1="459.85" y1="708.5" x2="464.45" y2="708.5"/>
<line x1="439.5" y1="285" x2="439.5" y2="638"/>
<line x1="450.5" y1="285" x2="450.5" y2="639"/>
<line x1="433" y1="303.5" x2="457" y2="303.5"/>
<line x1="433" y1="314.5" x2="457" y2="314.5"/>
<line x1="433" y1="325.5" x2="457" y2="325.5"/>
<line x1="433" y1="336.5" x2="457" y2="336.5"/>
<line x1="433" y1="347.5" x2="457" y2="347.5"/>
<line x1="433" y1="358.5" x2="457" y2="358.5"/>
<line x1="433" y1="369.5" x2="457" y2="369.5"/>
<line x1="433" y1="380.5" x2="457" y2="380.5"/>
<line x1="433" y1="390.5" x2="457" y2="390.5"/>
<line x1="433" y1="401.5" x2="457" y2="401.5"/>
<line x1="433" y1="412.5" x2="457" y2="412.5"/>
<line x1="433" y1="423.5" x2="457" y2="423.5"/>
<line x1="433" y1="434.5" x2="457" y2="434.5"/>
<line x1="433" y1="445.5" x2="457" y2="445.5"/>
<line x1="433" y1="456.5" x2="457" y2="456.5"/>
<line x1="433" y1="467.5" x2="457" y2="467.5"/>
<line x1="433" y1="478.5" x2="457" y2="478.5"/>
<line x1="433" y1="489.5" x2="457" y2="489.5"/>
<line x1="433" y1="500.5" x2="457" y2="500.5"/>
<line x1="433" y1="511.5" x2="457" y2="511.5"/>
<line x1="433" y1="522.5" x2="457" y2="522.5"/>
<line x1="433" y1="533.5" x2="457" y2="533.5"/>
<line x1="433" y1="543.5" x2="457" y2="543.5"/>
<line x1="433" y1="554.5" x2="457" y2="554.5"/>
<line x1="433" y1="565.5" x2="457" y2="565.5"/>
<line x1="433" y1="576.5" x2="457" y2="576.5"/>
<line x1="433" y1="587.5" x2="457" y2="587.5"/>
<line x1="433" y1="598.5" x2="457" y2="598.5"/>
<line x1="433" y1="609.5" x2="457" y2="609.5"/>
<path d="M372,341h1v1h-1zM373,341h1v1h-1zM374,341h1v1h-1zM370,342h1v1h-1zM371,342h1v1h-1zM375,342h1v1h-1zM376,342h1v1h-1zM370,343h1v1h-1zM376,343h1v1h-1zM369,344h1v1h-1zM377,344h1v1h-1zM369,345h1v1h-1zM377,345h1v1h-1zM369,346h1v1h-1zM377,346h1v1h-1zM370,347h1v1h-1zM376,347h1v1h-1zM370,348h1v1h-1zM371,348h1v1h-1zM375,348h1v1h-1zM376,348h1v1h-1zM372,349h1v1h-1zM373,349h1v1h-1zM374,349h1v1h-1zM386,341h1v1h-1zM387,341h1v1h-1zM388,341h1v1h-1zM384,342h1v1h-1zM385,342h1v1h-1zM389,342h1v1h-1zM390,342h1v1h-1zM384,343h1v1h-1zM390,343h1v1h-1zM383,344h1v1h-1zM391,344h1v1h-1zM383,345h1v1h-1zM391,345h1v1h-1zM383,346h1v1h-1zM391,346h1v1h-1zM384,347h1v1h-1zM390,347h1v1h-1zM384,348h1v1h-1zM385,348h1v1h-1zM389,348h1v1h-1zM390,348h1v1h-1zM386,349h1v1h-1zM387,349h1v1h-1zM388,349h1v1h-1zM365,353h1v1h-1zM366,353h1v1h-1zM367,353h1v1h-1zM363,354h1v1h-1zM364,354h1v1h-1zM368,354h1v1h-1zM369,354h1v1h-1zM363,355h1v1h-1zM369,355h1v1h-1zM362,356h1v1h-1zM370,356h1v1h-1zM362,357h1v1h-1zM370,357h1v1h-1zM362,358h1v1h-1zM370,358h1v1h-1zM363,359h1v1h-1zM369,359h1v1h-1zM363,360h1v1h-1zM364,360h1v1h-1zM368,360h1v1h-1zM369,360h1v1h-1zM365,361h1v1h-1zM366,361h1v1h-1zM367,361h1v1h-1zM379,353h1v1h-1zM380,353h1v1h-1zM381,353h1v1h-1zM377,354h1v1h-1zM378,354h1v1h-1zM382,354h1v1h-1zM383,354h1v1h-1zM377,355h1v1h-1zM383,355h1v1h-1zM376,356h1v1h-1zM384,356h1v1h-1zM376,357h1v1h-1zM384,357h1v1h-1zM376,358h1v1h-1zM384,358h1v1h-1zM377,359h1v1h-1zM383,359h1v1h-1zM377,360h1v1h-1zM378,360h1v1h-1zM382,360h1v1h-1zM383,360h1v1h-1zM379,361h1v1h-1zM380,361h1v1h-1zM381,361h1v1h-1zM393,353h1v1h-1zM394,353h1v1h-1zM395,353h1v1h-1zM391,354h1v1h-1zM392,354h1v1h-1zM396,354h1v1h-1zM397,354h1v1h-1zM391,355h1v1h-1zM397,355h1v1h-1zM390,356h1v1h-1zM398,356h1v1h-1zM390,357h1v1h-1zM398,357h1v1h-1zM390,358h1v1h-1zM398,358h1v1h-1zM391,359h1v1h-1zM397,359h1v1h-1zM391,360h1v1h-1zM392,360h1v1h-1zM396,360h1v1h-1zM397,360h1v1h-1zM393,361h1v1h-1zM394,361h1v1h-1zM395,361h1v1h-1zM372,365h1v1h-1zM373,365h1v1h-1zM374,365h1v1h-1zM370,366h1v1h-1zM371,366h1v1h-1zM375,366h1v1h-1zM376,366h1v1h-1zM370,367h1v1h-1zM376,367h1v1h-1zM369,368h1v1h-1zM377,368h1v1h-1zM369,369h1v1h-1zM377,369h1v1h-1zM369,370h1v1h-1zM377,370h1v1h-1zM370,371h1v1h-1zM376,371h1v1h-1zM370,372h1v1h-1zM371,372h1v1h-1zM375,372h1v1h-1zM376,372h1v1h-1zM372,373h1v1h-1zM373,373h1v1h-1zM374,373h1v1h-1zM386,365h1v1h-1zM387,365h1v1h-1zM388,365h1v1h-1zM384,366h1v1h-1zM385,366h1v1h-1zM389,366h1v1h-1zM390,366h1v1h-1zM384,367h1v1h-1zM390,367h1v1h-1zM383,368h1v1h-1zM391,368h1v1h-1zM383,369h1v1h-1zM391,369h1v1h-1zM383,370h1v1h-1zM391,370h1v1h-1zM384,371h1v1h-1zM390,371h1v1h-1zM384,372h1v1h-1zM385,372h1v1h-1zM389,372h1v1h-1zM390,372h1v1h-1zM386,373h1v1h-1zM387,373h1v1h-1zM388,373h1v1h-1z" fill="#000" stroke="none"/>
</svg>
</body></html>
